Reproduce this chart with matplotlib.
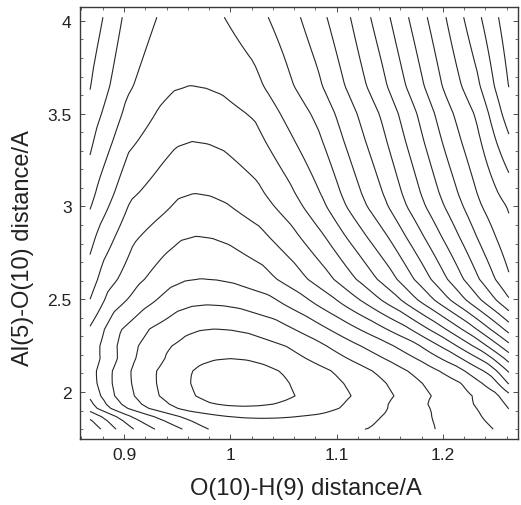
import numpy as np
import matplotlib
matplotlib.use("Agg")
import matplotlib.pyplot as plt

plt.rcParams['font.family'] = ['Liberation Sans', 'DejaVu Sans']

# ---- values (contour-level units) ----
# level along the valley floor vs Al-O distance
valley_y = [1.80, 1.86, 1.92, 1.98, 2.05, 2.11, 2.18, 2.26, 2.34, 2.47, 2.61, 2.84, 3.07, 3.35, 3.65, 4.02]
valley_level = [2.7, 2.0, 1.0, 0.45, 0.25, 0.45, 1.0, 1.5, 2.0, 3.0, 4.0, 5.0, 6.0, 7.0, 8.0, 8.75]
# O-H distance of the valley floor vs Al-O distance
valley_x_y = [1.80, 1.86, 1.92, 2.05, 2.18, 2.34, 2.47, 2.61, 2.84, 3.07, 3.35, 3.65, 4.02]
valley_x = [1.04, 1.03, 1.012, 1.007, 1.0, 0.985, 0.978, 0.972, 0.968, 0.966, 0.964, 0.962, 0.962]
# rise of level away from the valley (rows: Al-O distance, columns: offset in O-H)
wall_y = [1.80, 1.94, 2.05, 2.25, 2.50, 3.00, 3.50, 4.02]
right_offset = [0, 0.015, 0.03, 0.06, 0.09, 0.12, 0.15, 0.18, 0.21, 0.24, 0.27, 0.30]
right_rise = [
    [0, 0.01, 0.04, 0.14, 0.32, 0.75, 1.25, 1.80, 2.35, 3.20, 4.50, 6.0],
    [0, 0.04, 0.15, 0.50, 1.05, 1.75, 2.50, 3.35, 4.00, 4.80, 6.50, 8.5],
    [0, 0.09, 0.35, 1.00, 1.55, 2.20, 3.05, 3.95, 4.75, 6.30, 9.50, 12.0],
    [0, 0.04, 0.15, 0.60, 1.35, 2.30, 3.20, 4.30, 5.95, 7.95, 10.4, 13.0],
    [0, 0.04, 0.15, 0.60, 1.53, 2.68, 4.05, 5.60, 7.50, 9.50, 11.6, 13.8],
    [0, 0.06, 0.23, 0.82, 1.80, 3.10, 4.70, 6.20, 7.90, 9.60, 11.3, 12.6],
    [0, 0.04, 0.15, 0.62, 1.72, 2.76, 4.20, 5.65, 7.35, 9.15, 10.7, 13.1],
    [0, 0.05, 0.20, 0.85, 1.73, 2.85, 4.20, 5.78, 7.50, 9.20, 11.0, 12.85],
]
left_offset = [0, 0.015, 0.03, 0.06, 0.09, 0.12, 0.15, 0.18]
left_rise = [
    [0, 0.02, 0.08, 0.27, 1.50, 2.65, 4.45, 6.6],
    [0, 0.05, 0.20, 0.85, 1.90, 3.50, 6.00, 8.0],
    [0, 0.08, 0.33, 1.20, 2.20, 3.85, 6.00, 8.0],
    [0, 0.05, 0.20, 0.80, 1.95, 3.80, 6.00, 8.0],
    [0, 0.07, 0.30, 1.25, 2.45, 4.60, 7.00, 9.5],
    [0, 0.12, 0.50, 1.15, 2.80, 4.80, 7.00, 9.0],
    [0, 0.10, 0.40, 1.25, 2.80, 5.00, 7.20, 9.5],
    [0, 0.05, 0.22, 1.05, 2.70, 4.60, 6.80, 9.0],
]
oh_range = (0.868, 1.262)
alo_range = (1.80, 4.02)
levels = list(range(1, 23))


def wall(Y, D, ys, offs, table):
    rows = np.stack([np.interp(D, offs, r) for r in table])
    t = np.interp(Y, ys, np.arange(len(ys), dtype=float))
    i = np.clip(np.floor(t).astype(int), 0, len(ys) - 2)
    f = t - i
    lo = np.take_along_axis(rows, i[None], 0)[0]
    hi = np.take_along_axis(rows, (i + 1)[None], 0)[0]
    return lo + f * (hi - lo)


xg = np.linspace(oh_range[0], oh_range[1], 120)
yg = np.linspace(alo_range[0], alo_range[1], 100)
X, Y = np.meshgrid(xg, yg)
D = X - np.interp(Y, valley_x_y, valley_x)
F = (np.interp(Y, valley_y, valley_level)
     + wall(Y, np.clip(D, 0, None), wall_y, right_offset, right_rise)
     + wall(Y, np.clip(-D, 0, None), wall_y, left_offset, left_rise))

fig = plt.figure(figsize=(5.21, 5.06), dpi=100)
ax = fig.add_axes([80/521, 66/506, 438/521, 432/506])
ax.contour(X, Y, F, levels=levels, colors='#262626', linewidths=0.8)
ax.set_xlim(0.8586, 1.2706)
ax.set_ylim(1.747, 4.075)
ax.set_xticks([0.9, 1.0, 1.1, 1.2])
ax.set_xticklabels(['0.9', '1', '1.1', '1.2'])
ax.set_yticks([2, 2.5, 3, 3.5, 4])
ax.set_yticklabels(['2', '2.5', '3', '3.5', '4'])
ax.set_xticks(np.arange(0.86, 1.28, 0.02), minor=True)
ax.set_yticks(np.arange(1.8, 4.08, 0.1), minor=True)
ax.tick_params(which='major', direction='in', length=3.5, width=0.6, labelsize=12.5,
               colors='#333333', labelcolor='#222222', pad=6)
ax.tick_params(which='minor', direction='in', length=2, width=0.5, colors='#333333')
ax.tick_params(top=True, right=True, which='both')
for s in ax.spines.values():
    s.set_linewidth(1.0)
    s.set_color('#3a3a3a')
ax.set_xlabel('O(10)-H(9) distance/A', fontsize=17, color='#222222')
ax.set_ylabel('Al(5)-O(10) distance/A', fontsize=17, color='#222222')
ax.xaxis.set_label_coords(0.516, -0.088)
ax.yaxis.set_label_coords(-0.105, 0.444)
fig.savefig('out.png', dpi=100)
